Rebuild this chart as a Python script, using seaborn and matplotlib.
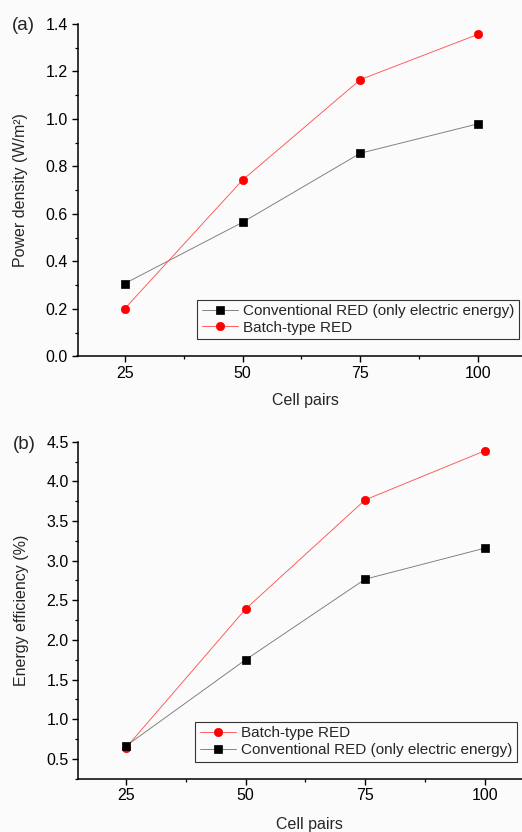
import matplotlib
matplotlib.use('Agg')
import matplotlib.pyplot as plt
import seaborn as sns
from matplotlib.ticker import MultipleLocator, FormatStrFormatter

# ---- data ----
cell_pairs = [25, 50, 75, 100]
power_conventional = [0.307, 0.565, 0.856, 0.980]
power_batch = [0.201, 0.743, 1.166, 1.357]
eff_batch = [0.642, 2.39, 3.766, 4.384]
eff_conventional = [0.664, 1.75, 2.766, 3.157]

label_conv = 'Conventional RED (only electric energy)'
label_batch = 'Batch-type RED'

sns.set_theme(style='ticks')
plt.rcParams['font.family'] = ['Liberation Sans', 'DejaVu Sans']
plt.rcParams['axes.edgecolor'] = 'black'
plt.rcParams['xtick.color'] = 'black'
plt.rcParams['ytick.color'] = 'black'

W, H = 522, 832
bg = '#fbfbfb'
fig = plt.figure(figsize=(W / 100, H / 100), dpi=100, facecolor=bg)

def px_axes(left, top, right, bottom):
    return [left / W, 1 - bottom / H, (right - left) / W, (bottom - top) / H]

w1 = 97 * 4.715
w2 = 97 * 4.78
ax1 = fig.add_axes(px_axes(77.5, 24, 77.5 + w1, 356.5))
ax2 = fig.add_axes(px_axes(78.3, 441.7, 78.3 + w2, 778.7))

conv_style = dict(color='#7a7a7a', lw=0.65, marker='s', markersize=5.2,
                  markerfacecolor='black', markeredgecolor='black', markeredgewidth=0.5)
batch_style = dict(color='#ff5555', lw=0.65, marker='o', markersize=6,
                   markerfacecolor='#ff0000', markeredgecolor='#ff0000', markeredgewidth=0.5)

sns.lineplot(x=cell_pairs, y=power_conventional, ax=ax1, label=label_conv, **conv_style)
sns.lineplot(x=cell_pairs, y=power_batch, ax=ax1, label=label_batch, **batch_style)

sns.lineplot(x=cell_pairs, y=eff_batch, ax=ax2, label=label_batch, **batch_style)
sns.lineplot(x=cell_pairs, y=eff_conventional, ax=ax2, label=label_conv, **conv_style)

FS = 11.5
for ax in (ax1, ax2):
    ax.set_facecolor(bg)
    ax.set_xlim(15, 112)
    ax.xaxis.set_major_locator(MultipleLocator(25))
    ax.xaxis.set_minor_locator(MultipleLocator(12.5))
    for side in ('top', 'right'):
        ax.spines[side].set_visible(False)
    for side in ('left', 'bottom'):
        ax.spines[side].set_linewidth(1.1)
        ax.spines[side].set_color('black')
    ax.tick_params(which='major', direction='out', length=4, width=1.0, labelsize=FS, pad=3)
    ax.tick_params(which='minor', direction='out', length=2.2, width=0.9)
    ax.set_xlabel('Cell pairs', fontsize=FS)

ax1.set_ylim(0, 1.4)
ax1.yaxis.set_major_locator(MultipleLocator(0.2))
ax1.yaxis.set_minor_locator(MultipleLocator(0.1))
ax1.set_ylabel('Power density (W/m²)', fontsize=FS)
ax1.yaxis.set_major_formatter(FormatStrFormatter('%.1f'))

ax2.set_ylim(0.25, 4.5)
ax2.yaxis.set_major_locator(MultipleLocator(0.5))
ax2.yaxis.set_minor_locator(MultipleLocator(0.25))
ax2.set_ylabel('Energy efficiency (%)', fontsize=FS)
ax2.yaxis.set_major_formatter(FormatStrFormatter('%.1f'))

# label positions
ax1.yaxis.set_label_coords((28 - 77.5) / w1, 0.5)
ax2.yaxis.set_label_coords((29 - 78.3) / w2, 0.5)
ax1.xaxis.set_label_coords((305.5 - 77.5) / w1, -(400.7 - 356.5) / (356.5 - 24))
ax2.xaxis.set_label_coords((309.7 - 78.3) / w2, -(825 - 778.7) / (778.7 - 441.7))
ax1.xaxis.label.set_va('center')
ax2.xaxis.label.set_va('center')

# legends
def style_legend(leg):
    fr = leg.get_frame()
    fr.set_edgecolor('#333333')
    fr.set_linewidth(0.8)
    fr.set_facecolor(bg)
    fr.set_alpha(1)

leg_kw = dict(loc='upper left', bbox_transform=fig.transFigure, borderaxespad=0,
              fontsize=11.0, fancybox=False, handlelength=2.4, handletextpad=0.3,
              labelspacing=0.18, borderpad=0.3)
leg1 = ax1.legend(bbox_to_anchor=(197 / W, 1 - 299.5 / H), **leg_kw)
style_legend(leg1)
leg2 = ax2.legend(bbox_to_anchor=(195 / W, 1 - 721.7 / H), **leg_kw)
style_legend(leg2)

fig.text(23.5 / W, 1 - 25 / H, '(a)', ha='center', va='center', fontsize=13.5)
fig.text(24 / W, 1 - 444.7 / H, '(b)', ha='center', va='center', fontsize=13.5)

fig.savefig('out.png', dpi=100, facecolor=bg)
